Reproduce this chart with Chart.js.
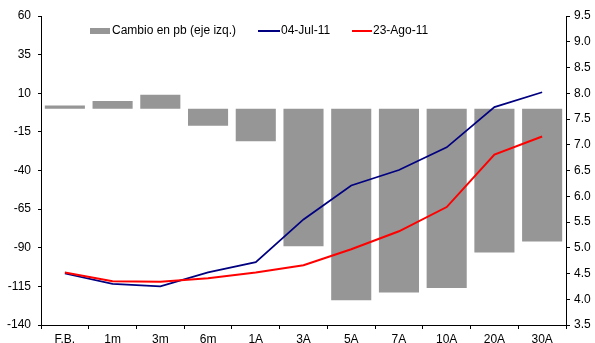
<!DOCTYPE html>
<html>
<head>
<meta charset="utf-8">
<script src="https://cdn.jsdelivr.net/npm/chart.js@4/dist/chart.umd.min.js"></script>
<style>
  html, body { margin: 0; padding: 0; background: #fff; }
  #wrap { width: 595px; height: 343px; position: relative; }
</style>
</head>
<body>
<div id="wrap"><canvas id="c" width="595" height="343"></canvas></div>
<script>
// Plazos de la curva
const categories = ['F.B.', '1m', '3m', '6m', '1A', '3A', '5A', '7A', '10A', '20A', '30A'];
// Cambio en puntos básicos (eje izquierdo)
const cambioPb = [2, 5, 9, -11, -21, -89, -124, -119, -116, -93, -86];
// Tasas (%) por fecha (eje derecho)
const tasa04Jul = [4.50, 4.30, 4.25, 4.52, 4.72, 5.55, 6.21, 6.51, 6.95, 7.73, 8.02];
const tasa23Ago = [4.52, 4.35, 4.34, 4.41, 4.52, 4.66, 4.97, 5.32, 5.79, 6.81, 7.16];
// Límites de los ejes
const leftTicks = { min: -140, max: 60, step: 25 };
const rightTicks = { min: 3.5, max: 9.5, step: 0.5 };

const FONT = "'Liberation Sans', Arial, sans-serif";
Chart.defaults.font.family = FONT;
Chart.defaults.font.size = 12;
Chart.defaults.color = '#000';

// Leyenda dibujada en una sola fila dentro del área del gráfico
const inlineLegend = {
  id: 'inlineLegend',
  afterDraw(chart) {
    const ctx = chart.ctx;
    const ds = chart.data.datasets;
    const y = 31;
    ctx.save();
    ctx.font = '12px ' + FONT;
    ctx.textBaseline = 'middle';
    ctx.fillStyle = '#000';
    // barras
    ctx.fillStyle = ds[2].backgroundColor;
    ctx.fillRect(90, 28, 20, 6);
    ctx.fillStyle = '#000';
    ctx.fillText(ds[2].label, 112, y);
    // líneas
    const items = [[ds[0], 258, 281], [ds[1], 352, 373]];
    items.forEach(([d, x0, tx]) => {
      ctx.strokeStyle = d.borderColor;
      ctx.lineWidth = 2;
      ctx.beginPath();
      ctx.moveTo(x0, y);
      ctx.lineTo(tx - 1, y);
      ctx.stroke();
      ctx.fillStyle = '#000';
      ctx.fillText(d.label, tx, y);
    });
    ctx.restore();
  }
};

new Chart(document.getElementById('c'), {
  data: {
    labels: categories,
    datasets: [
      {
        type: 'line', label: '04-Jul-11', data: tasa04Jul, yAxisID: 'y1',
        borderColor: '#000080', borderWidth: 1.75, pointRadius: 0, tension: 0, order: 1
      },
      {
        type: 'line', label: '23-Ago-11', data: tasa23Ago, yAxisID: 'y1',
        borderColor: '#ff0000', borderWidth: 2, pointRadius: 0, tension: 0, order: 0
      },
      {
        type: 'bar', label: 'Cambio en pb (eje izq.)', data: cambioPb, yAxisID: 'y',
        backgroundColor: '#969696', barPercentage: 0.84, categoryPercentage: 1, order: 2
      }
    ]
  },
  options: {
    responsive: false,
    animation: false,
    devicePixelRatio: 1,
    layout: { padding: { top: 16, bottom: 0, left: 0, right: 0 } },
    plugins: { legend: { display: false }, tooltip: { enabled: false } },
    scales: {
      x: {
        offset: true,
        grid: { display: true, drawOnChartArea: false, offset: true, color: '#000', tickLength: 4 },
        border: { display: true, color: '#000', width: 1 },
        ticks: { padding: 3, font: { size: 12 }, color: '#000', maxRotation: 0 },
        afterFit(s) { s.height = 18; }
      },
      y: {
        position: 'left',
        min: leftTicks.min, max: leftTicks.max,
        grid: { display: true, drawOnChartArea: false, color: '#000', tickLength: 3 },
        border: { display: true, color: '#000', width: 1 },
        ticks: { stepSize: leftTicks.step, padding: 7, color: '#000' },
        afterFit(s) { s.width = 41; }
      },
      y1: {
        position: 'right',
        min: rightTicks.min, max: rightTicks.max,
        grid: { display: true, drawOnChartArea: false, color: '#000', tickLength: 4 },
        border: { display: true, color: '#000', width: 1 },
        ticks: { stepSize: rightTicks.step, padding: 4, color: '#000', callback: v => v.toFixed(1) },
        afterFit(s) { s.width = 29; }
      }
    }
  },
  plugins: [inlineLegend]
});
</script>
</body>
</html>
